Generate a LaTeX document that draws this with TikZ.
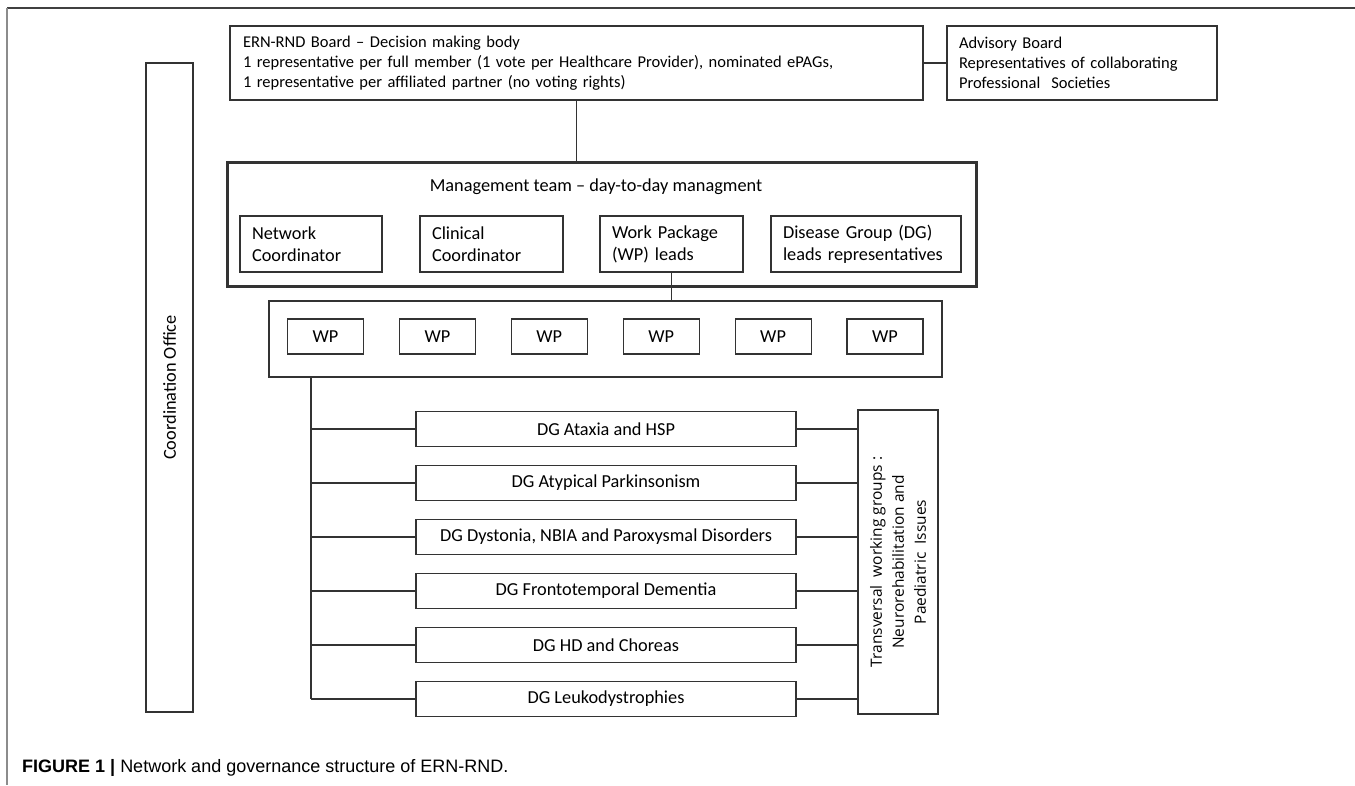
\documentclass[tikz,border=0pt]{standalone}
\usepackage{fontspec}
\setmainfont{Carlito}
\newfontfamily\wgfont{Open Sans}
\newfontfamily\capfont{Liberation Sans}
\usetikzlibrary{positioning}

\tikzset{
  box/.style={draw=black!80, line width=1.2pt, inner sep=0pt,
    font=\fontsize{18.3}{22}\selectfont},
  topbox/.style={box, minimum height=74pt, align=left,
    font=\fontsize{16.5}{20}\selectfont},
  subbox/.style={box, minimum height=56pt, inner xsep=12pt, align=left},
  link/.style={draw=black!80, line width=1.2pt}
}

\begin{document}
\begin{tikzpicture}[x=1pt, y=-1pt]
    \useasboundingbox (0,0) rectangle (1355,785);

    % figure frame
    \draw[black!75, line width=2pt] (7,8) -- (1355,8);
    \draw[black!45, line width=2pt] (7,8) -- (7,785);

    \node[topbox, text width=667pt, inner xsep=13pt] (board) at (576.5,63) {
      ERN-RND Board -- Decision making body\\
      1 representative per full member (1 vote per Healthcare Provider), nominated ePAGs,\\
      1 representative per affiliated partner (no voting rights)};
    \node[topbox, text width=246pt, inner xsep=12pt] (advisory) at (1082,63) {
      Advisory Board\\
      Representatives of collaborating\\
      Professional\ \ Societies};
    \draw[link] (board.east) -- (advisory.west);

    \node[box, rotate=90, minimum width=649pt, minimum height=47pt] (coord) at (169.5,387.5) {Coordination Office};

    \node[box, line width=3pt, minimum width=749pt, minimum height=124pt] (mgmt) at (601.5,224) {};
    \node[font=\fontsize{18.3}{22}\selectfont] (mgmttitle) at (596,187) {Management team -- day-to-day managment};
    \draw[link] (board.south) -- (board.south |- mgmt.north);

    \node[subbox, text width=118pt] (netco) at (311,244) {Network\\ Coordinator};
    \node[subbox, text width=119pt] (clinco) at (491.5,244) {Clinical\\ Coordinator};
    \node[subbox, text width=119pt] (wplead) at (671.5,244) {Work Package\\ (WP) leads};
    \node[subbox, text width=166pt] (dglead) at (866,244) {Disease Group (DG)\\ leads representatives};

    \node[box, minimum width=673pt, minimum height=76pt] (wpbox) at (605.5,339) {};
    \draw[link] (wplead.south) -- (wplead.south |- wpbox.north);
    \foreach \i in {1,...,6}
        \node[box, minimum width=76pt, minimum height=35pt] (wp\i) at ({325.5+111.9*(\i-1)},336.5) {WP};

    \node[box, rotate=90, minimum width=304pt, minimum height=80pt, align=center,
      font=\wgfont\fontsize{15.5}{22}\selectfont] (trans) at (898,562) {
      Transversal\ \ working groups :\\
      Neurorehabilitation and\\
      Paediatric\ \ Issues};

    \coordinate (trunk) at (311,0);
    \foreach \dgname [count=\i] in {DG Ataxia and HSP, DG Atypical Parkinsonism,
        {DG Dystonia, NBIA and Paroxysmal Disorders}, DG Frontotemporal Dementia,
        DG HD and Choreas, DG Leukodystrophies}
    {
        \node[box, minimum width=380pt, minimum height=35pt] (dg\i) at (606,{429+54*(\i-1)}) {\dgname};
        \draw[link] (trunk |- dg\i.west) -- (dg\i.west);
        \draw[link] (dg\i.east) -- (dg\i.east -| trans.north);
    }
    \draw[link] (trunk |- wpbox.south) -- (trunk |- dg6.west);

    \node[anchor=west, inner sep=0pt, font=\capfont\fontsize{18}{20}\selectfont] (caption) at (22,768)
      {\textbf{FIGURE 1 |} Network and governance structure of ERN-RND.};

\end{tikzpicture}
\end{document}
